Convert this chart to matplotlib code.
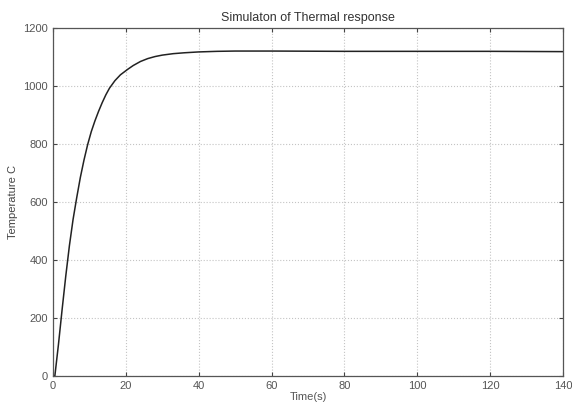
import matplotlib.pyplot as plt

# values
time_s = [0, 0.5, 1.5, 2.5, 3.5, 4.5, 5.5, 6.5, 7.5, 8.5, 9.5, 10.5, 11.5, 12.5,
          13.5, 14.5, 15.5, 17, 18.5, 20.5, 22, 24, 26, 28, 30, 33, 36, 40, 45,
          50, 60, 80, 100, 120, 140]
temp_c = [0, 0, 110, 230, 345, 450, 540, 615, 685, 745, 798, 843, 880, 913,
          943, 970, 993, 1019, 1039, 1058, 1071, 1085, 1095, 1102, 1107, 1112,
          1115, 1118, 1120, 1121, 1121, 1120, 1120, 1120, 1119]

x_ticks = [0, 20, 40, 60, 80, 100, 120, 140]
y_ticks = [0, 200, 400, 600, 800, 1000, 1200]

plt.rcParams['font.family'] = ['Liberation Sans', 'DejaVu Sans']

fig = plt.figure(figsize=(5.72, 4.08), dpi=100)
ax = fig.add_axes([0.0927, 0.0784, 0.8916, 0.8526])

ax.plot(time_s, temp_c, color='#222222', linewidth=1.1)

ax.set_xlim(0, 140)
ax.set_ylim(0, 1200)
ax.set_xticks(x_ticks)
ax.set_yticks(y_ticks)
ax.tick_params(direction='in', top=True, right=True, labelsize=8, length=3,
               colors='#444444', labelcolor='#555555')
ax.grid(True, linestyle=':', color='#c4c4c4', linewidth=0.8)
for s in ax.spines.values():
    s.set_color('#555555')
    s.set_linewidth(0.9)

ax.set_title("Simulaton of Thermal response", fontsize=9, color='#333333', pad=5)
ax.set_xlabel("Time(s)", fontsize=8, color='#555555', labelpad=1)
ax.set_ylabel("Temperature C", fontsize=8, color='#444444', labelpad=4)

fig.savefig("out.png", dpi=100)
